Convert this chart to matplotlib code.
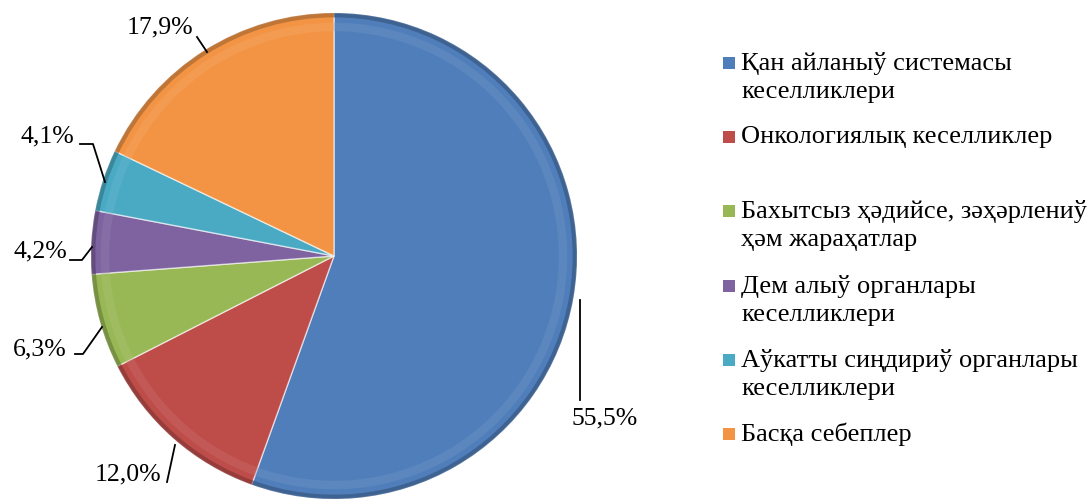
import numpy as np
import matplotlib.pyplot as plt
from matplotlib.patches import Rectangle
from matplotlib.colors import to_rgb

# Data
categories = ['Қан айланыў системасы\nкеселликлери',
              'Онкологиялық кеселликлер',
              'Бахытсыз ҳәдийсе, зәҳәрлениў\nҳәм жараҳатлар',
              'Дем алыў органлары\nкеселликлери',
              'Аўкатты сиңдириў органлары\nкеселликлери',
              'Басқа себеплер']
values = [55.5, 12.0, 6.3, 4.2, 4.1, 17.9]
value_labels = ['55,5%', '12,0%', '6,3%', '4,2%', '4,1%', '17,9%']
colors = ['#4F7EBA', '#BE4D4A', '#98B856', '#7E63A0', '#4AAAC4', '#F39445']

serif = ['Liberation Serif', 'DejaVu Serif']
W, H = 1092, 501


def shade(c, f):
    c = np.array(to_rgb(c))
    if f < 0:
        return tuple(c * (1 + f))
    return tuple(c + (1 - c) * f)


fig = plt.figure(figsize=(W / 100, H / 100), dpi=100)
# pie centre (334, 256) px from top-left, radius 243 px
cx, cy, r = 334, 256, 243
ax = fig.add_axes([(cx - r) / W, (H - cy - r) / H, 2 * r / W, 2 * r / H])
ax.pie(values, colors=colors, startangle=90, counterclock=False, radius=1,
       wedgeprops=dict(edgecolor=(1, 1, 1, 0.6), linewidth=1.0))
# soft bevel: light band inside the rim, dark band at the rim
ax.pie(values, colors=[shade(c, 0.2) for c in colors], startangle=90,
       counterclock=False, radius=0.96,
       wedgeprops=dict(width=0.035, edgecolor='none', alpha=0.35))
ax.pie(values, colors=[shade(c, -0.3) for c in colors], startangle=90,
       counterclock=False, radius=1.0,
       wedgeprops=dict(width=0.018, edgecolor='none', alpha=0.7))
ax.set_xlim(-1, 1)
ax.set_ylim(-1, 1)
ax.set_aspect('equal')
ax.axis('off')


def px(x, y):
    # pixel position -> data coords of the pie axes
    return (x - cx) / r, (cy - y) / r


# label text centres and leader lines (pixels)
label_pos = [(605, 418), (128, 474), (40, 349), (40, 251), (47, 136), (160, 27)]
leaders = [
    [(580, 300), (580, 400)],
    [(175, 445), (167, 482)],
    [(75, 354), (83, 354), (102, 327)],
    [(70, 260), (82, 260), (92, 247)],
    [(80, 144), (93, 144), (105, 182)],
    [(197, 37), (207, 52)],
]
for lab, pos, pts in zip(value_labels, label_pos, leaders):
    tx, ty = px(*pos)
    ax.text(tx, ty, lab, ha='center', va='center', fontsize=18.5,
            family=serif, clip_on=False)
    xs, ys = zip(*[px(*p) for p in pts])
    ax.plot(xs, ys, color='black', lw=1.3, clip_on=False)

# legend drawn by hand so the swatch lines up with the first line
leg_y = [63, 137, 211, 286, 360, 434]
for name, col, y in zip(categories, colors, leg_y):
    fig.patches.append(Rectangle((723 / W, (H - y - 6) / H), 12 / W, 12 / H,
                                 transform=fig.transFigure, facecolor=col,
                                 edgecolor='none'))
    fig.text(741 / W, (H - y + 11) / H, name, ha='left', va='top',
             fontsize=19, family=serif, linespacing=1.38,
             transform=fig.transFigure)

fig.savefig('out.png', dpi=100)
